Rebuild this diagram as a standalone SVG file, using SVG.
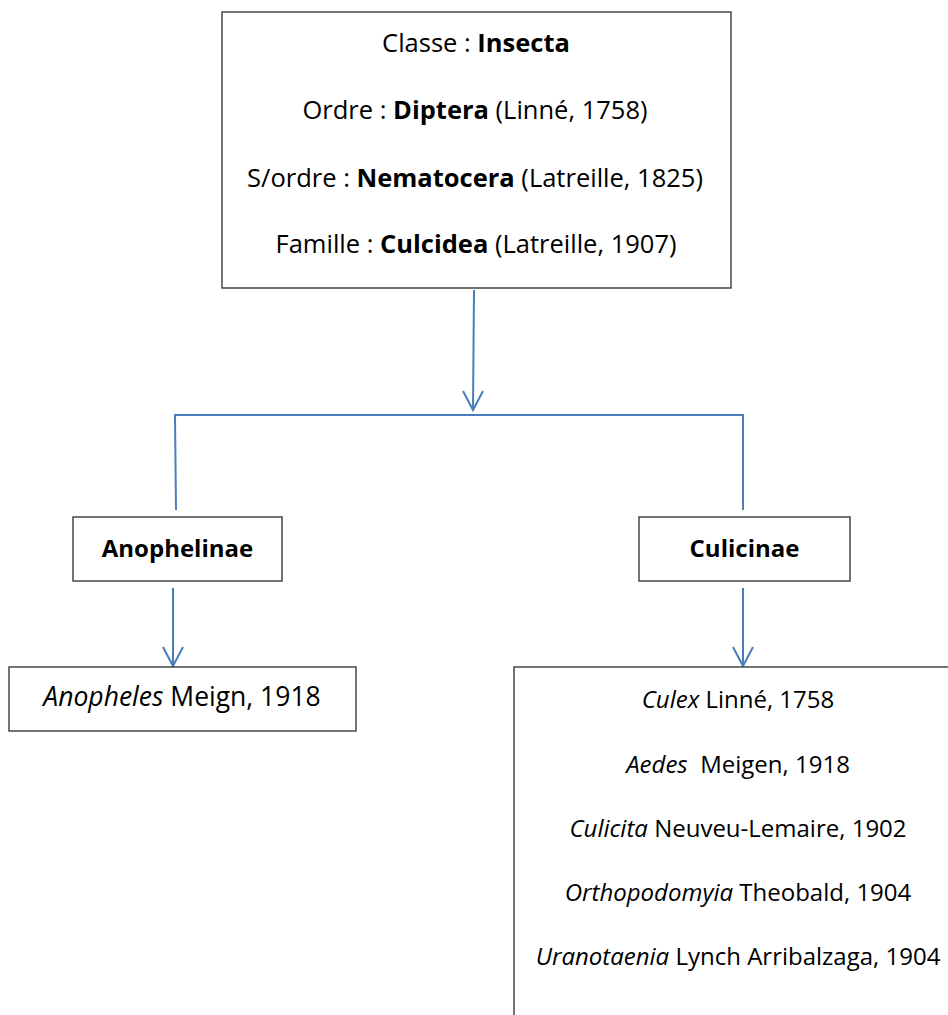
<svg xmlns="http://www.w3.org/2000/svg" width="948" height="1015" viewBox="0 0 948 1015">
<defs>
<style>
.box{fill:#fff;stroke:#3a3a3a;stroke-width:1.4}
.t{font-family:"Open Sans","Liberation Sans",sans-serif;font-size:24px;fill:#000;text-anchor:middle}
.top{font-size:25.5px}
.big{font-size:26.5px}
.b{font-weight:bold}
.i{font-style:italic}
.c{fill:none;stroke:#4a7ebb;stroke-width:2}
</style>
</defs>
<rect width="948" height="1015" fill="#fff"/>
<g id="connectors">
<line class="c" x1="474" y1="290" x2="473" y2="409"/>
<path class="c" d="M176,510 L175,415 L743,415 L743,510"/>
<line class="c" x1="173" y1="588" x2="173" y2="665"/>
<line class="c" x1="743" y1="588" x2="743" y2="665"/>
<g fill="none" stroke="#4a7ebb" stroke-width="2">
<path d="M463,391 L473,410 L483,391"/>
<path d="M163,647 L173,666 L183,647"/>
<path d="M733,647 L743,666 L753,647"/>
</g>
</g>
<g id="taxon">
<rect class="box" x="222" y="12" width="509" height="276"/>
<text class="t top" x="476" y="52">Classe : <tspan class="b">Insecta</tspan></text>
<text class="t top" x="475" y="119">Ordre : <tspan class="b">Diptera</tspan> (Linné, 1758)</text>
<text class="t top" x="475" y="187">S/ordre : <tspan class="b">Nematocera</tspan> (Latreille, 1825)</text>
<text class="t top" x="476" y="253">Famille : <tspan class="b">Culcidea</tspan> (Latreille, 1907)</text>
</g>
<g id="anophelinae">
<rect class="box" x="73" y="517" width="209" height="64"/>
<text class="t b" x="177.5" y="557">Anophelinae</text>
</g>
<g id="culicinae">
<rect class="box" x="639" y="517" width="211" height="64"/>
<text class="t b" x="744.5" y="557">Culicinae</text>
</g>
<g id="anopheles">
<rect class="box" x="9" y="667" width="347" height="64"/>
<text class="t big" x="182" y="706"><tspan class="i">Anopheles</tspan> Meign, 1918</text>
</g>
<g id="genera">
<rect class="box" x="514" y="667" width="450" height="370"/>
<text class="t" x="738" y="708"><tspan class="i">Culex</tspan> Linné, 1758</text>
<text class="t" x="738" y="773" xml:space="preserve"><tspan class="i">Aedes</tspan>  Meigen, 1918</text>
<text class="t" x="738" y="837"><tspan class="i">Culicita</tspan> Neuveu-Lemaire, 1902</text>
<text class="t" x="738" y="901"><tspan class="i">Orthopodomyia</tspan> Theobald, 1904</text>
<text class="t" x="738" y="965"><tspan class="i">Uranotaenia</tspan> Lynch Arribalzaga, 1904</text>
</g>
</svg>
